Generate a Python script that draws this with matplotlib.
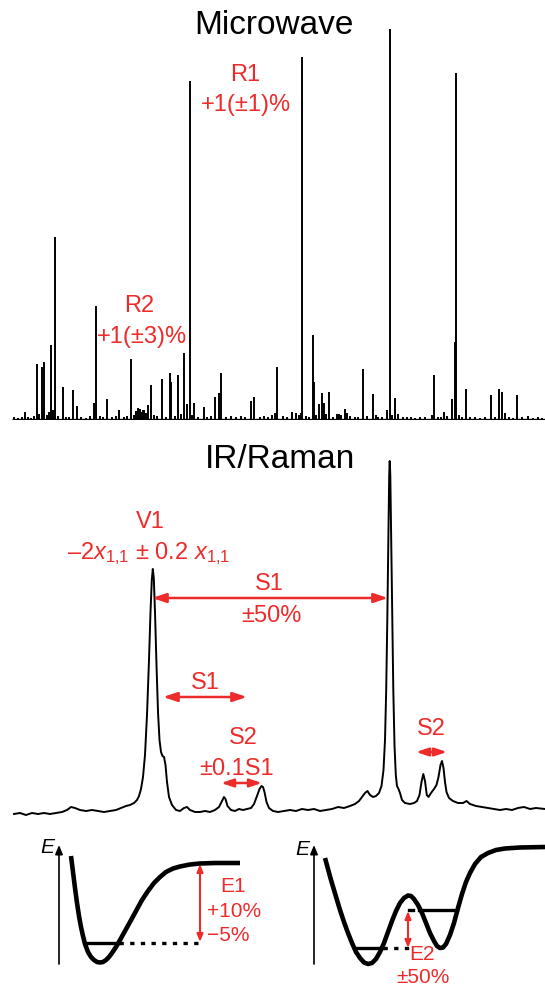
import numpy as np
import matplotlib
matplotlib.use('Agg')
from matplotlib import pyplot as plt

plt.rcParams['font.family'] = ['Liberation Sans', 'DejaVu Sans']
plt.rcParams['mathtext.fontset'] = 'custom'
plt.rcParams['mathtext.rm'] = 'Liberation Sans'
plt.rcParams['mathtext.it'] = 'Liberation Sans:italic'

RED = '#ee2b2b'

# microwave stick spectrum (frequency, intensity)
mw_freq = [14, 18, 22, 25, 28, 31, 34, 37, 39, 42, 44, 47, 49, 51, 53, 55, 58, 63, 66, 69,
           73, 77, 81, 86, 90, 94, 96, 100, 103, 107, 112, 116, 119, 124, 127, 131, 134, 136,
           138, 140, 141, 143, 144, 146, 148, 151, 154, 157, 162, 166, 170, 171, 175, 178,
           181, 184, 187, 190, 192, 194, 198, 204, 207, 211, 215, 219, 221, 226, 231, 236,
           241, 245, 251, 254, 260, 264, 268, 272, 275, 277, 283, 287, 292, 296, 299, 301,
           302, 306, 309, 313, 314, 316, 319, 322, 324, 326, 329, 333, 337, 339, 341, 345,
           347, 350, 355, 358, 363, 367, 373, 376, 378, 382, 387, 390, 392, 395, 398, 403,
           407, 411, 415, 420, 425, 432, 434, 438, 441, 444, 447, 452, 455, 456, 459, 462,
           466, 470, 475, 480, 485, 491, 495, 499, 502, 505, 509, 513, 517, 522, 528, 533,
           538, 542]
mw_int = [3, 2, 3, 8, 3, 2, 4, 56, 6, 53, 58, 5, 8, 75, 10, 183, 4, 33, 3, 3,
          30, 14, 3, 2, 4, 17, 114, 4, 3, 21, 3, 4, 10, 3, 4, 61, 5, 9,
          12, 11, 8, 10, 10, 7, 15, 35, 5, 4, 41, 3, 47, 38, 4, 45,
          6, 67, 16, 339, 5, 17, 3, 13, 3, 4, 23, 27, 47, 3, 4, 3,
          4, 3, 19, 23, 3, 4, 3, 5, 7, 53, 4, 3, 8, 7, 5, 7,
          363, 4, 3, 85, 38, 5, 16, 27, 17, 6, 28, 3, 6, 6, 5, 11,
          7, 4, 3, 3, 51, 4, 26, 5, 3, 3, 10, 391, 5, 22, 6, 3,
          3, 3, 2, 3, 3, 5, 45, 3, 3, 8, 4, 21, 78, 347, 5, 3,
          31, 3, 3, 2, 3, 25, 3, 31, 28, 7, 3, 2, 25, 3, 4, 2,
          3, 2]

# IR/Raman trace (frequency, intensity)
ir_freq = [14, 20, 26, 32, 38, 44, 50, 56, 62, 67, 71, 75, 80, 86, 92, 98, 104, 110, 116, 121,
           126, 130, 134, 137, 139, 141, 143, 145, 147, 149, 150.5, 151.8, 152.8, 153.8, 155,
           156.5, 158, 159.5, 161, 162.5, 164, 165.5, 167, 169, 172, 176, 180, 184, 187, 190,
           195, 200, 205, 210, 215, 219, 222, 224, 225.5, 227.5, 231, 235, 239, 243, 247, 251,
           254, 257, 259.5, 261.5, 263, 264.5, 266.5, 269, 273, 278, 284, 290, 296, 302, 308,
           314, 320, 326, 332, 338, 344, 350, 355, 359, 362, 365, 367.5, 370, 373, 376, 379,
           381.5, 383.5, 385, 386.2, 387.3, 388.3, 389.2, 389.7, 390.3, 391.2, 392.2, 393.3,
           394.5, 395.8, 397, 398.5, 400, 402, 405, 410, 414, 417, 419.5, 421.5, 423.3, 425,
           426.8, 428.5, 431, 434, 436.5, 438.5, 440.5, 442, 443.5, 445, 446.5, 449, 453, 458,
           463, 466.5, 470, 476, 482, 488, 494, 500, 506, 512, 518, 524, 530, 536, 545]
ir_int = [16, 17, 15, 17, 16, 17, 16, 17, 18, 20, 23, 22, 20, 19, 20, 19, 18, 19, 20, 22,
          24, 25, 27, 30, 34, 41, 53, 75, 115, 170, 218, 250, 261, 252, 218,
          165, 118, 90, 78, 74, 73, 65, 48, 33, 25, 20, 19, 22, 23, 20,
          18, 18, 19, 18, 20, 23, 29, 33, 31, 24, 20, 19, 21, 20, 21, 22,
          26, 34, 41, 44, 43, 38, 28, 22, 19, 18, 19, 20, 19, 21, 20,
          21, 19, 20, 21, 23, 22, 24, 26, 29, 33, 37, 39, 35, 33, 34, 37,
          44, 60, 90, 140, 210, 290, 355, 369, 355, 290, 210, 140,
          85, 55, 44, 41, 37, 30, 27, 26, 27, 29, 35, 48, 56, 49,
          35, 33, 37, 41, 45, 53, 65, 69, 62, 48, 38, 32, 29, 27,
          27, 29, 26, 24, 23, 22, 21, 20, 21, 20, 22, 23, 21, 22, 21]

# schematic potentials (coordinate, energy)
morse_r = [71, 73, 75, 77, 79, 81, 83, 85, 88, 91, 94, 97, 100, 103, 106, 109, 112, 116, 120,
           125, 130, 136, 142, 148, 154, 160, 166, 173, 180, 190, 200, 215, 240]
morse_e = [130, 114, 98, 83, 70, 59, 50, 42, 34, 29, 26, 24, 23.5, 24, 26, 29, 33, 39, 46,
           55, 64, 75, 86, 95, 103, 109, 114, 117.5, 119.5, 121.5, 122.5, 123, 123]
dw_r = [325, 328, 331, 334, 337, 340, 344, 348, 352, 356, 360, 364, 368, 372, 376, 380, 384,
        388, 392, 396, 400, 404, 408, 411, 414, 418, 422, 426, 430, 434, 437, 440, 443, 446,
        450, 454, 458, 462, 466, 470, 475, 481, 488, 496, 505, 520, 545]
dw_e = [128, 117, 106, 96, 86, 76, 64, 53, 43, 34, 28, 23.5, 22, 23, 27, 34, 43,
        54, 65, 75, 83, 88, 90.5, 90, 87, 81, 73, 63, 53, 45, 40, 38, 38.5, 42,
        51, 63, 78, 92, 104, 113, 122, 129, 133, 136, 137.5, 138.5, 139]

fig = plt.figure(figsize=(5.45, 9.86), dpi=100)

# ---- microwave ----
ax = fig.add_axes([0, 566 / 986, 1, 420 / 986])
ax.set_xlim(0, 545)
ax.set_ylim(0, 420)
ax.axis('off')
ax.vlines(mw_freq, 0, mw_int, color='k', lw=1.4)
ax.hlines(0, 12, 545, color='k', lw=2.4)
ax.text(274, 386, 'Microwave', fontsize=24, ha='center', va='baseline')
ax.text(245, 339, 'R1', fontsize=17, color=RED, ha='center', va='baseline')
ax.text(246, 309, '+1(±1)%', fontsize=17, color=RED, ha='center', va='baseline')
ax.text(139, 108, 'R2', fontsize=17, color=RED, ha='center', va='baseline')
ax.text(142, 77, '+1(±3)%', fontsize=17, color=RED, ha='center', va='baseline')


def arrow(ax, x0, y0, x1, y1, style, ms, lw=1.8, color=RED):
    ax.annotate('', xy=(x1, y1), xytext=(x0, y0),
                arrowprops=dict(arrowstyle=style, color=color, lw=lw,
                                mutation_scale=ms, shrinkA=0, shrinkB=0))


# ---- IR / Raman ----
ax = fig.add_axes([0, 156 / 986, 1, 400 / 986])
ax.set_xlim(0, 545)
ax.set_ylim(0, 400)
ax.axis('off')
ax.plot(ir_freq, ir_int, color='k', lw=1.4)
ax.text(280, 362, 'IR/Raman', fontsize=24, ha='center', va='baseline')
ax.text(150, 302, 'V1', fontsize=17, color=RED, ha='center', va='baseline')
ax.text(149, 271, r'–2$x_{1{,}1}$ ± 0.2 $x_{1{,}1}$', fontsize=17, color=RED,
        ha='center', va='baseline')
dbl = '<|-|>,head_length=0.6,head_width=0.2'
arrow(ax, 152, 232, 388, 232, dbl, 14)
ax.text(269, 240, 'S1', fontsize=17, color=RED, ha='center', va='baseline')
ax.text(271, 208, '±50%', fontsize=17, color=RED, ha='center', va='baseline')
arrow(ax, 163, 133, 247, 133, dbl, 14)
ax.text(205, 141, 'S1', fontsize=17, color=RED, ha='center', va='baseline')
ax.text(243, 86, 'S2', fontsize=17, color=RED, ha='center', va='baseline')
ax.text(237, 55, '±0.1S1', fontsize=17, color=RED, ha='center', va='baseline')
arrow(ax, 221, 47, 262, 47, dbl, 12)
ax.text(431, 95, 'S2', fontsize=17, color=RED, ha='center', va='baseline')
arrow(ax, 416, 78, 447, 78, dbl, 12)

# ---- potential sketches ----
ax = fig.add_axes([0, 0, 1, 156 / 986])
ax.set_xlim(0, 545)
ax.set_ylim(0, 156)
ax.axis('off')
for x0 in (59, 314):
    arrow(ax, x0, 22, x0, 141, '-|>,head_length=0.6,head_width=0.25', 9, lw=1.2, color='k')
ax.text(47, 133, 'E', fontsize=15, style='italic', ha='center', va='baseline')
ax.text(302, 131, 'E', fontsize=15, style='italic', ha='center', va='baseline')

ax.plot(morse_r, morse_e, color='k', lw=3.3, solid_capstyle='butt')
ax.plot([86, 119], [43, 43], color='k', lw=2.4)
ax.plot([119, 200], [43, 43], color='k', lw=2.4, ls=(0, (1.3, 1.9)))
arrow(ax, 200, 44, 200, 122, '<|-|>,head_length=0.5,head_width=0.2', 9, lw=1.5)
ax.text(233, 94, 'E1', fontsize=15, color=RED, ha='center', va='baseline')
ax.text(234, 69, '+10%', fontsize=15, color=RED, ha='center', va='baseline')
ax.text(228, 45, '−5%', fontsize=15, color=RED, ha='center', va='baseline')

ax.plot(dw_r, dw_e, color='k', lw=3.3, solid_capstyle='butt')
ax.plot([355, 383], [38, 38], color='k', lw=2.4)
ax.plot([383, 409], [38, 38], color='k', lw=2.4, ls=(0, (1.3, 1.9)))
ax.plot([409, 413], [76, 76], color='k', lw=2.4)
ax.plot([419, 457], [76, 76], color='k', lw=2.4)
arrow(ax, 408, 38, 408, 75, '<|-|>,head_length=0.5,head_width=0.2', 9, lw=1.5)
ax.text(422, 26, 'E2', fontsize=15, color=RED, ha='center', va='baseline')
ax.text(423, 3, '±50%', fontsize=15, color=RED, ha='center', va='baseline')

fig.savefig('out.png', dpi=100)
